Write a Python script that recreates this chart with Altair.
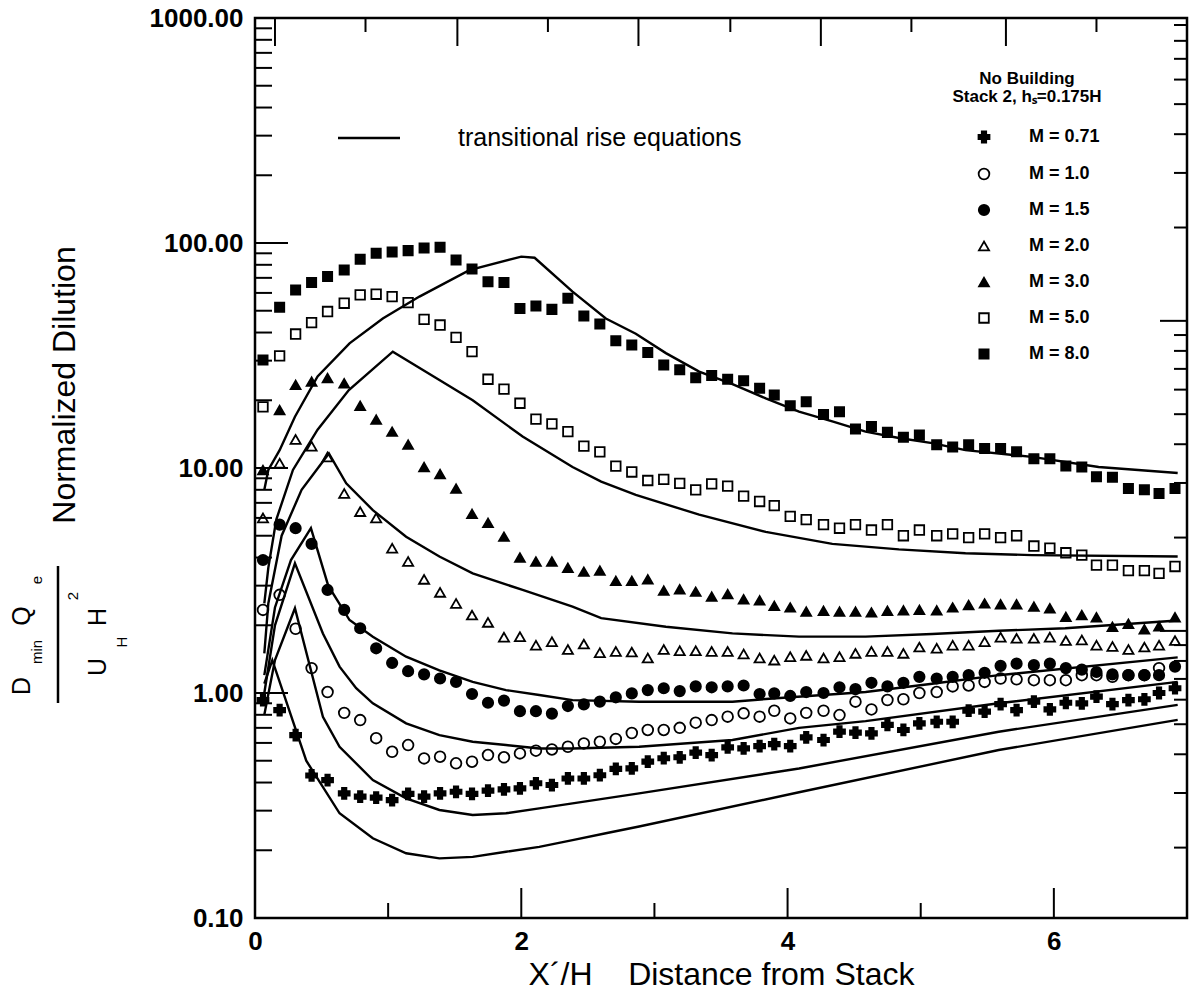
import altair as alt
import pandas as pd

W, H = 932, 900

# ---------------- data ----------------
X_GRID = [0.06, 0.185, 0.305, 0.425, 0.545, 0.67, 0.79, 0.91, 1.03, 1.15,
          1.27, 1.39, 1.51, 1.63, 1.75, 1.87, 1.99, 2.11, 2.23, 2.35,
          2.47, 2.59, 2.71, 2.83, 2.95, 3.07, 3.19, 3.31, 3.43, 3.55,
          3.67, 3.79, 3.90, 4.02, 4.14, 4.27, 4.39, 4.51, 4.63, 4.75,
          4.87, 4.99, 5.12, 5.24, 5.36, 5.48, 5.60, 5.72, 5.85, 5.97,
          6.09, 6.21, 6.32, 6.44, 6.56, 6.68, 6.79, 6.91]

SERIES = ["M = 0.71", "M = 1.0", "M = 1.5", "M = 2.0", "M = 3.0", "M = 5.0", "M = 8.0"]

Y_M071 = [0.93, 0.84, 0.65, 0.43, 0.41, 0.358, 0.346, 0.343, 0.334, 0.356,
          0.346, 0.358, 0.364, 0.356, 0.368, 0.373, 0.377, 0.397, 0.39, 0.417,
          0.417, 0.431, 0.46, 0.462, 0.495, 0.513, 0.518, 0.543, 0.53, 0.573,
          0.567, 0.581, 0.593, 0.581, 0.635, 0.618, 0.673, 0.667, 0.662, 0.721,
          0.685, 0.733, 0.745, 0.745, 0.834, 0.826, 0.893, 0.84, 0.915, 0.845,
          0.905, 0.90, 0.964, 0.893, 0.93, 0.938, 1.0, 1.05]
Y_M10 = [2.34, 2.73, 1.93, 1.29, 1.01, 0.816, 0.758, 0.63, 0.548, 0.587,
         0.512, 0.521, 0.487, 0.495, 0.53, 0.518, 0.539, 0.554, 0.561, 0.577,
         0.597, 0.607, 0.625, 0.664, 0.685, 0.685, 0.70, 0.738, 0.758, 0.785,
         0.812, 0.785, 0.834, 0.771, 0.816, 0.834, 0.798, 0.915, 0.845, 0.931,
         0.938, 1.0, 1.01, 1.07, 1.08, 1.12, 1.16, 1.15, 1.14, 1.14,
         1.14, 1.20, 1.20, 1.18, 1.20, 1.20, 1.29, None]
Y_M15 = [3.9, 5.6, 5.4, 4.6, 2.87, 2.34, 1.94, 1.58, 1.36, 1.25,
         1.21, 1.16, 1.12, 0.99, 0.905, 0.925, 0.83, 0.83, 0.81, 0.875,
         0.89, 0.915, 0.957, 0.996, 1.03, 1.05, 1.02, 1.07, 1.06, 1.07,
         1.08, 0.99, 0.996, 0.97, 1.01, 1.0, 1.06, 1.04, 1.11, 1.07,
         1.11, 1.18, 1.16, 1.18, 1.20, 1.23, 1.32, 1.35, 1.33, 1.35,
         1.29, 1.27, 1.24, 1.21, 1.20, 1.20, 1.20, 1.31]
Y_M20 = [6.0, 10.5, 13.4, 12.5, 11.2, 7.7, 6.4, 6.0, 4.4, 3.84,
         3.2, 2.8, 2.5, 2.22, 2.06, 1.77, 1.78, 1.63, 1.69, 1.56,
         1.65, 1.51, 1.53, 1.52, 1.43, 1.56, 1.54, 1.54, 1.53, 1.53,
         1.49, 1.43, 1.40, 1.45, 1.47, 1.43, 1.45, 1.50, 1.53, 1.53,
         1.50, 1.60, 1.58, 1.63, 1.63, 1.69, 1.77, 1.75, 1.75, 1.77,
         1.71, 1.72, 1.63, 1.61, 1.56, 1.60, 1.63, 1.71]
Y_M30 = [9.8, 18.1, 23.4, 24.2, 25.1, 23.8, 18.9, 16.4, 14.5, 12.7,
         10.1, 9.4, 8.1, 6.25, 5.7, 4.95, 4.0, 3.84, 3.84, 3.6,
         3.46, 3.5, 3.15, 3.15, 3.2, 2.85, 2.89, 2.82, 2.68, 2.75,
         2.61, 2.58, 2.44, 2.40, 2.30, 2.32, 2.30, 2.30, 2.28, 2.32,
         2.33, 2.34, 2.33, 2.40, 2.46, 2.50, 2.48, 2.48, 2.42, 2.38,
         2.18, 2.22, 2.17, 1.97, 2.03, 1.92, 1.98, 2.17]
Y_M50 = [18.7, 31.5, 39.4, 44.3, 49.6, 54.0, 58.8, 59.2, 57.8, 54.3,
         45.8, 43.2, 38.1, 32.9, 24.8, 22.4, 19.4, 16.5, 15.7, 14.5,
         12.5, 11.8, 10.2, 9.6, 8.8, 8.9, 8.55, 8.0, 8.5, 8.3,
         7.5, 7.1, 6.8, 6.1, 5.9, 5.6, 5.4, 5.6, 5.3, 5.6,
         5.0, 5.3, 5.0, 5.1, 4.9, 5.1, 4.9, 5.0, 4.5, 4.4,
         4.2, 4.1, 3.7, 3.7, 3.5, 3.5, 3.4, 3.65]
Y_M80 = [30.2, 51.8, 61.8, 66.8, 71.0, 75.9, 84.6, 90.0, 91.2, 92.5,
         95.0, 95.7, 84.1, 76.7, 67.3, 66.8, 51.1, 52.5, 50.7, 56.8,
         47.4, 43.7, 36.8, 35.2, 32.6, 28.7, 27.3, 25.2, 25.8, 24.8,
         24.4, 22.6, 21.1, 18.9, 19.7, 17.3, 17.8, 14.9, 15.3, 14.4,
         13.7, 14.0, 12.7, 12.4, 12.7, 12.2, 12.2, 11.8, 11.0, 11.0,
         10.2, 10.1, 9.15, 9.1, 8.1, 8.0, 7.7, 8.1]
SERIES_Y = [Y_M071, Y_M10, Y_M15, Y_M20, Y_M30, Y_M50, Y_M80]

# transitional rise equation curves
LX_M80 = [0.07, 0.1, 0.185, 0.3, 0.47, 0.71, 0.96, 1.235, 1.61, 2.0, 2.1, 2.385, 2.635, 2.86,
          3.086, 3.336, 3.586, 3.836, 4.086, 4.336, 4.586, 4.836, 5.086, 5.336, 5.836, 6.336, 6.93]
LY_M80 = [8.0, 9.8, 12.0, 16.9, 25.5, 35.8, 46.2, 57.8, 75.8, 87.0, 86.0, 60.8, 46.2, 39.5,
          32.4, 26.8, 23.6, 20.4, 17.8, 16.1, 14.5, 13.6, 12.9, 12.0, 11.2, 10.1, 9.5]
LX_M50 = [0.07, 0.1, 0.16, 0.285, 0.47, 0.705, 1.035, 1.385, 1.635, 2.01, 2.385, 2.6, 2.86,
          3.336, 3.836, 4.336, 4.836, 5.336, 5.836, 6.93]
LY_M50 = [2.5, 3.6, 5.9, 9.8, 14.8, 22.2, 32.9, 24.6, 20.0, 13.8, 10.1, 8.7, 7.6,
          6.2, 5.2, 4.6, 4.35, 4.18, 4.1, 4.04]
LX_M30 = [0.07, 0.1, 0.2, 0.35, 0.555, 0.685, 0.885, 1.135, 1.385, 1.635, 2.01, 2.385, 2.6,
          3.086, 3.586, 4.086, 4.586, 5.086, 5.586, 6.086, 6.93]
LY_M30 = [1.5, 2.5, 5.0, 8.0, 11.6, 8.55, 6.5, 4.95, 4.04, 3.4, 2.87, 2.42, 2.15,
          1.97, 1.84, 1.78, 1.78, 1.83, 1.89, 1.94, 2.1]
LX_M20 = [0.07, 0.15, 0.27, 0.42, 0.55, 0.71, 0.885, 1.135, 1.385, 1.635, 1.885, 2.135, 2.385,
          2.885, 3.586, 3.836, 4.586, 5.086, 5.586, 6.93]
LY_M20 = [1.2, 2.4, 3.9, 5.4, 3.0, 2.11, 1.78, 1.45, 1.26, 1.12, 1.03, 0.98, 0.93,
          0.915, 0.915, 0.94, 1.01, 1.10, 1.20, 1.44]
LX_M15 = [0.07, 0.15, 0.30, 0.51, 0.635, 0.76, 0.885, 1.135, 1.385, 1.635, 1.885, 2.135, 2.385,
          2.885, 3.586, 4.086, 4.586, 5.586, 6.93]
LY_M15 = [1.0, 2.0, 3.77, 1.84, 1.31, 1.05, 0.90, 0.733, 0.65, 0.607, 0.587, 0.567, 0.567,
          0.577, 0.618, 0.70, 0.75, 0.90, 1.12]
LX_M10 = [0.07, 0.15, 0.30, 0.51, 0.635, 0.885, 1.135, 1.385, 1.635, 1.885, 2.135, 2.385, 2.635,
          2.885, 4.086, 5.586, 6.93]
LY_M10 = [0.8, 1.4, 2.38, 0.783, 0.577, 0.41, 0.34, 0.302, 0.287, 0.292, 0.307, 0.323, 0.34,
          0.358, 0.462, 0.673, 0.885]
LX_M071 = [0.07, 0.13, 0.385, 0.635, 0.885, 1.135, 1.385, 1.635, 1.885, 2.135, 2.385, 2.635,
           2.885, 4.086, 5.586, 6.93]
LY_M071 = [1.1, 1.4, 0.50, 0.292, 0.226, 0.194, 0.184, 0.187, 0.197, 0.207, 0.222, 0.238,
           0.255, 0.362, 0.558, 0.76]
CURVES = [(LX_M071, LY_M071), (LX_M10, LY_M10), (LX_M15, LY_M15), (LX_M20, LY_M20),
          (LX_M30, LY_M30), (LX_M50, LY_M50), (LX_M80, LY_M80)]

# axis ticks
Y_LABELS = [0.1, 1, 10, 100, 1000]
Y_MINOR = [0.2, 0.3, 0.4, 0.5, 0.6, 0.7, 0.8, 0.9, 2, 3, 4, 5, 6, 7, 8, 9,
           20, 30, 40, 50, 60, 70, 80, 90, 200, 300, 400, 500, 600, 700, 800, 900]
X_LABELS = [0, 2, 4, 6]
X_LONG = [2, 4, 6]
X_SHORT = [1, 3, 5]
TOP_LONG = [0.15, 1.52, 2.88, 4.25, 5.64]
TOP_SHORT = [0.83, 2.20, 3.57, 4.93, 6.32]
# right-hand axis: a second log scale (1 and 10 long ticks)
R_LONG = [1, 10]
R_SHORT = [0.2, 0.3, 0.4, 0.5, 0.6, 0.7, 0.8, 0.9, 2, 3, 4, 5, 6, 7, 8, 9,
           20, 30, 40, 50, 60, 70, 80, 90]
R_TO_LEFT = "pow(10, 0.276 + 1.378 * log(datum.r) / LN10)"

SHAPES = ["cross", "circle", "circle", "triangle-up", "triangle-up", "square", "square"]
FILLS = ["black", "transparent", "black", "transparent", "black", "transparent", "black"]
STROKES = ["black"] * 7
SIZES = [120, 85, 100, 95, 105, 105, 150]

FONT = "Liberation Sans"
NB = "\u00a0"

# ---------------- tables ----------------
rows = []
for name, ys in zip(SERIES, SERIES_Y):
    for xv, yv in zip(X_GRID, ys):
        if yv is not None:
            rows.append({"x": xv, "y": yv, "series": name})
pts = pd.DataFrame(rows)

crows = []
for name, (xs, ys) in zip(SERIES, CURVES):
    for i, (xv, yv) in enumerate(zip(xs, ys)):
        crows.append({"x": xv, "y": yv, "curve": name, "i": i})
curves = pd.DataFrame(crows)

xscale = alt.Scale(domain=[0, 7], nice=False, zero=False)
yscale = alt.Scale(type="log", domain=[0.1, 1000], nice=False)

XAX = alt.Axis(values=X_LABELS, format="d", ticks=False, domain=False, grid=False,
               labelFont=FONT, labelFontSize=26, labelFontWeight="bold",
               labelPadding=10, labelFlush=False,
               title="X´/H" + NB * 4 + "Distance from Stack", titleFont=FONT,
               titleFontSize=32, titleFontWeight="normal", titlePadding=5)
YAX = alt.Axis(values=Y_LABELS, format=".2f", ticks=False, domain=False, grid=False,
               labelFont=FONT, labelFontSize=26, labelFontWeight="bold",
               labelPadding=12, labelOverlap=False, labelFlush=False, title=None)

legend = alt.Legend(
    title=["No Building", "Stack 2, hₛ=0.175H"],
    orient="none", legendX=697, legendY=53,
    titleFont=FONT, titleFontSize=17, titleFontWeight="bold",
    titleAnchor="middle", titleAlign="center", titleLineHeight=18, titlePadding=22,
    labelFont=FONT, labelFontSize=18, labelFontWeight="bold", labelOffset=36,
    symbolOffset=21, symbolSize=100, symbolStrokeColor="black", symbolStrokeWidth=1.8,
    rowPadding=18, padding=0,
)

X = alt.X("x:Q", scale=xscale, axis=XAX)
Y = alt.Y("y:Q", scale=yscale, axis=YAX)

lines = alt.Chart(curves).mark_line(color="black", strokeWidth=2.4).encode(
    x=X, y=Y, detail="curve:N", order="i:Q")

markers = alt.Chart(pts).mark_point(filled=True, strokeWidth=1.8, opacity=1).encode(
    x=X, y=Y,
    shape=alt.Shape("series:N", scale=alt.Scale(domain=SERIES, range=SHAPES), legend=legend),
    fill=alt.Fill("series:N", scale=alt.Scale(domain=SERIES, range=FILLS), legend=legend),
    stroke=alt.Stroke("series:N", scale=alt.Scale(domain=SERIES, range=STROKES), legend=legend),
    size=alt.Size("series:N", scale=alt.Scale(domain=SERIES, range=SIZES), legend=legend),
)


def yticks(vals, length):
    return alt.Chart(pd.DataFrame({"y": vals})).mark_rule(color="black", strokeWidth=2).encode(
        y=Y, x=alt.value(0), x2=alt.value(length))


def rticks(vals, length):
    return alt.Chart(pd.DataFrame({"r": vals})).transform_calculate(y=R_TO_LEFT).mark_rule(
        color="black", strokeWidth=2).encode(y=Y, x=alt.value(W - length), x2=alt.value(W))


def xticks(vals, length):
    return alt.Chart(pd.DataFrame({"x": vals})).mark_rule(color="black", strokeWidth=2).encode(
        x=X, y=alt.value(H), y2=alt.value(H - length))


def topticks(vals, length):
    return alt.Chart(pd.DataFrame({"x": vals})).mark_rule(color="black", strokeWidth=2).encode(
        x=X, y=alt.value(0), y2=alt.value(length))


def label(text, x, y, size, weight="normal", angle=0, align="center", baseline="middle"):
    return alt.Chart(pd.DataFrame({"t": [text]})).mark_text(
        font=FONT, fontSize=size, fontWeight=weight, angle=angle, align=align,
        baseline=baseline, color="black").encode(text="t:N", x=alt.value(x), y=alt.value(y))


key_line = alt.Chart(pd.DataFrame({"t": ["k"]})).mark_rule(color="black", strokeWidth=2.4).encode(
    x=alt.value(83), x2=alt.value(145), y=alt.value(120))

texts = [
    label("transitional rise equations", 203, 120, 25, align="left"),
    label("Normalized Dilution", -190, 367, 32, angle=270),
    label("D", -233, 668, 25, angle=270),
    label("min", -218, 634, 15, angle=270),
    label("Q", -233, 598, 25, angle=270),
    label("e", -218, 562, 15, angle=270),
    label("U", -157, 649, 25, angle=270),
    label("H", -133, 624, 15, angle=270),
    label("H", -157, 599, 25, angle=270),
    label("2", -182, 578, 15, angle=270),
]
frac_bar = alt.Chart(pd.DataFrame({"t": ["b"]})).mark_rule(color="black", strokeWidth=2.5).encode(
    x=alt.value(-197), y=alt.value(548), y2=alt.value(685))

chart = alt.layer(
    lines,
    yticks(Y_LABELS, 33), yticks(Y_MINOR, 17),
    rticks(R_LONG, 27), rticks(R_SHORT, 13),
    xticks(X_LONG, 30), xticks(X_SHORT, 15),
    topticks(TOP_LONG, 28), topticks(TOP_SHORT, 14),
    markers, key_line, frac_bar, *texts,
).properties(
    width=W, height=H,
    autosize=alt.AutoSizeParams(type="none"),
    padding={"left": 255, "top": 18, "right": 9, "bottom": 83},
    background="white",
).configure_view(stroke="black", strokeWidth=2.5)

chart.save("out.html", embed_options={"renderer": "svg", "actions": False})
